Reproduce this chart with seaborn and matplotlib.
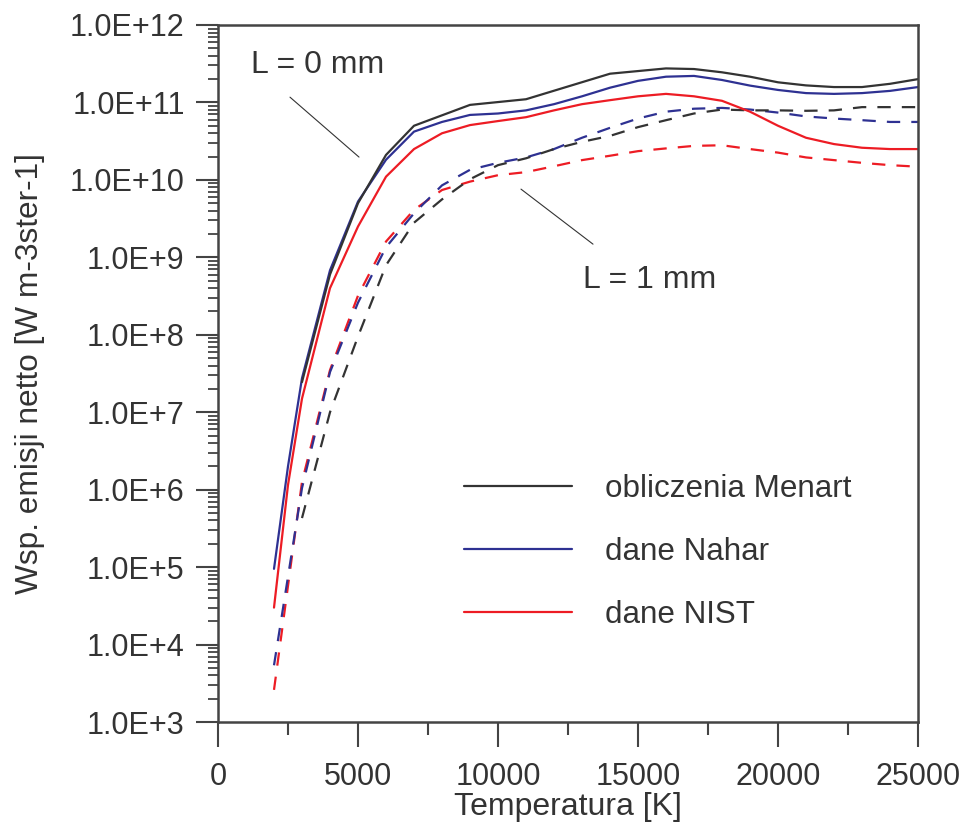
import matplotlib
matplotlib.use("Agg")
import matplotlib.pyplot as plt
import numpy as np
import pandas as pd
import seaborn as sns
from matplotlib.ticker import FixedLocator, LogLocator, FuncFormatter, NullFormatter, MultipleLocator

# ---------------- data ----------------
# L = 0 mm (solid)
T_m0 = [3000, 4000, 5000, 6000, 7000, 9000, 11000, 14000, 16000, 17000, 18000,
        19000, 20000, 21000, 22000, 23000, 24000, 25000]
menart_L0 = [2.45e7, 6.0e8, 5.0e9, 2.1e10, 5.0e10, 9.3e10, 1.1e11, 2.35e11, 2.75e11, 2.7e11,
             2.45e11, 2.15e11, 1.82e11, 1.66e11, 1.58e11, 1.58e11, 1.74e11, 2.0e11]

T_0 = [2000, 2500, 3000, 4000, 5000, 6000, 7000, 8000, 9000, 10000, 11000, 12000, 13000,
       14000, 15000, 16000, 17000, 18000, 19000, 20000, 21000, 22000, 23000, 24000, 25000]
nahar_L0 = [9.5e4, 2.0e6, 2.75e7, 6.8e8, 5.25e9, 1.82e10, 4.2e10, 5.6e10, 6.9e10, 7.2e10,
            7.9e10, 9.5e10, 1.2e11, 1.55e11, 1.9e11, 2.15e11, 2.2e11, 1.95e11, 1.65e11,
            1.45e11, 1.32e11, 1.29e11, 1.32e11, 1.41e11, 1.58e11]
nist_L0 = [3.0e4, 1.15e6, 1.5e7, 4.0e8, 2.5e9, 1.1e10, 2.5e10, 4.0e10, 5.1e10, 5.75e10,
           6.45e10, 7.9e10, 9.5e10, 1.07e11, 1.2e11, 1.29e11, 1.2e11, 1.05e11, 7.6e10,
           5.0e10, 3.5e10, 2.9e10, 2.6e10, 2.5e10, 2.5e10]

# L = 1 mm (dashed)
T_m1 = [3000, 4000, 5000, 6000, 7000, 8000, 9000, 10000, 11000, 12000, 13000, 14000,
        15000, 16000, 17000, 18000, 19000, 20000, 21000, 22000, 23000, 24000, 25000]
menart_L1 = [4.3e5, 1.0e7, 9.5e7, 7.9e8, 2.8e9, 5.6e9, 1.02e10, 1.55e10, 1.9e10, 2.5e10,
             3.1e10, 3.7e10, 4.8e10, 5.9e10, 7.2e10, 8.1e10, 7.9e10, 7.9e10, 7.8e10,
             7.9e10, 8.7e10, 8.7e10, 8.7e10]

T_1 = [2000, 3000, 4000, 5000, 6000, 7000, 8000, 9000, 10000, 11000, 12000, 13000, 14000,
       15000, 16000, 17000, 18000, 19000, 20000, 21000, 22000, 23000, 24000, 25000]
nahar_L1 = [5.4e3, 1.05e6, 3.3e7, 2.6e8, 1.35e9, 3.7e9, 8.5e9, 1.35e10, 1.66e10, 1.95e10,
            2.5e10, 3.5e10, 4.7e10, 6.2e10, 7.6e10, 8.3e10, 8.5e10, 8.1e10, 7.4e10,
            6.6e10, 6.2e10, 5.9e10, 5.6e10, 5.6e10]
nist_L1 = [2.6e3, 1.26e6, 3.5e7, 3.2e8, 1.6e9, 4.1e9, 7.4e9, 9.5e9, 1.15e10, 1.26e10,
           1.5e10, 1.8e10, 2.05e10, 2.35e10, 2.55e10, 2.75e10, 2.8e10, 2.5e10, 2.25e10,
           1.95e10, 1.8e10, 1.66e10, 1.55e10, 1.48e10]

legend_labels = ["obliczenia Menart", "dane Nahar", "dane NIST"]
x_ticks = [0, 5000, 10000, 15000, 20000, 25000]
y_exponents = [3, 4, 5, 6, 7, 8, 9, 10, 11, 12]

# ---------------- style ----------------
sns.set_style("ticks")
plt.rcParams['font.family'] = ['Liberation Sans', 'DejaVu Sans']

C_BLACK = "#333333"
C_BLUE = "#2E3192"
C_RED = "#ED1C24"
TXT = "#333333"
AXC = "#444444"

fig = plt.figure(figsize=(9.64, 8.25), dpi=100)
ax = fig.add_axes([218 / 964, 1 - 722 / 825, 700 / 964, 697 / 825])

series = [
    (T_1, nist_L1, C_RED, "dash", None),
    (T_1, nahar_L1, C_BLUE, "dash", None),
    (T_m1, menart_L1, C_BLACK, "dash", None),
    (T_0, nist_L0, C_RED, "solid", legend_labels[2]),
    (T_0, nahar_L0, C_BLUE, "solid", legend_labels[1]),
    (T_m0, menart_L0, C_BLACK, "solid", legend_labels[0]),
]
handles = {}
for T, v, c, st, lab in series:
    df = pd.DataFrame({"T": T, "v": v})
    sns.lineplot(data=df, x="T", y="v", ax=ax, color=c, linewidth=1.6,
                 estimator=None, sort=False, legend=False)
    line = ax.lines[-1]
    if st == "dash":
        line.set_linestyle((0, (6, 5)))
    if lab is not None:
        handles[lab] = line

ax.set_yscale("log")
ax.set_xlim(0, 25000)
ax.set_ylim(1e3, 1e12)

ax.xaxis.set_major_locator(FixedLocator(x_ticks))
ax.xaxis.set_minor_locator(MultipleLocator(2500))
ax.yaxis.set_major_locator(FixedLocator([10.0 ** e for e in y_exponents]))
ax.yaxis.set_major_formatter(FuncFormatter(lambda v, p: "1.0E+%d" % int(round(np.log10(v)))))
ax.yaxis.set_minor_locator(LogLocator(base=10, subs=np.arange(2, 10), numticks=50))
ax.yaxis.set_minor_formatter(NullFormatter())

ax.tick_params(axis="x", which="major", direction="out", length=18, width=1.5,
               color=AXC, labelsize=22, labelcolor=TXT, pad=11)
ax.tick_params(axis="x", which="minor", direction="out", length=9.5, width=1.5, color=AXC)
ax.tick_params(axis="y", which="major", direction="out", length=16, width=1.5,
               color=AXC, labelsize=22, labelcolor=TXT, pad=8)
ax.tick_params(axis="y", which="minor", direction="out", length=7.5, width=1.3, color=AXC)

for sp in ax.spines.values():
    sp.set_visible(True)
    sp.set_linewidth(1.8)
    sp.set_color(AXC)

ax.set_xlabel("Temperatura [K]", fontsize=23, color=TXT, labelpad=0)
ax.set_ylabel("Wsp. emisji netto [W m-3ster-1]", fontsize=22.8, color=TXT, labelpad=18)

# annotations
ax.plot([2571, 5036], [1.17e11, 1.97e10], color=C_BLACK, lw=0.8)
ax.plot([10821, 13393], [7.6e9, 1.48e9], color=C_BLACK, lw=0.8)
ax.text(3571, 10 ** 11.48, "L = 0 mm", fontsize=23, color=TXT, ha="center", va="center")
ax.text(15429, 10 ** 8.705, "L = 1 mm", fontsize=23, color=TXT, ha="center", va="center")

leg = ax.legend([handles[l] for l in legend_labels], legend_labels,
                loc="upper left", bbox_to_anchor=((464 - 218) / 700, (722 - 474) / 697),
                frameon=False, fontsize=22.6, handlelength=3.45, handletextpad=1.05,
                labelspacing=1.05, borderpad=0, borderaxespad=0)
for t in leg.get_texts():
    t.set_color(TXT)
for h in leg.get_lines():
    h.set_linewidth(1.6)

fig.savefig("out.png", dpi=100)
